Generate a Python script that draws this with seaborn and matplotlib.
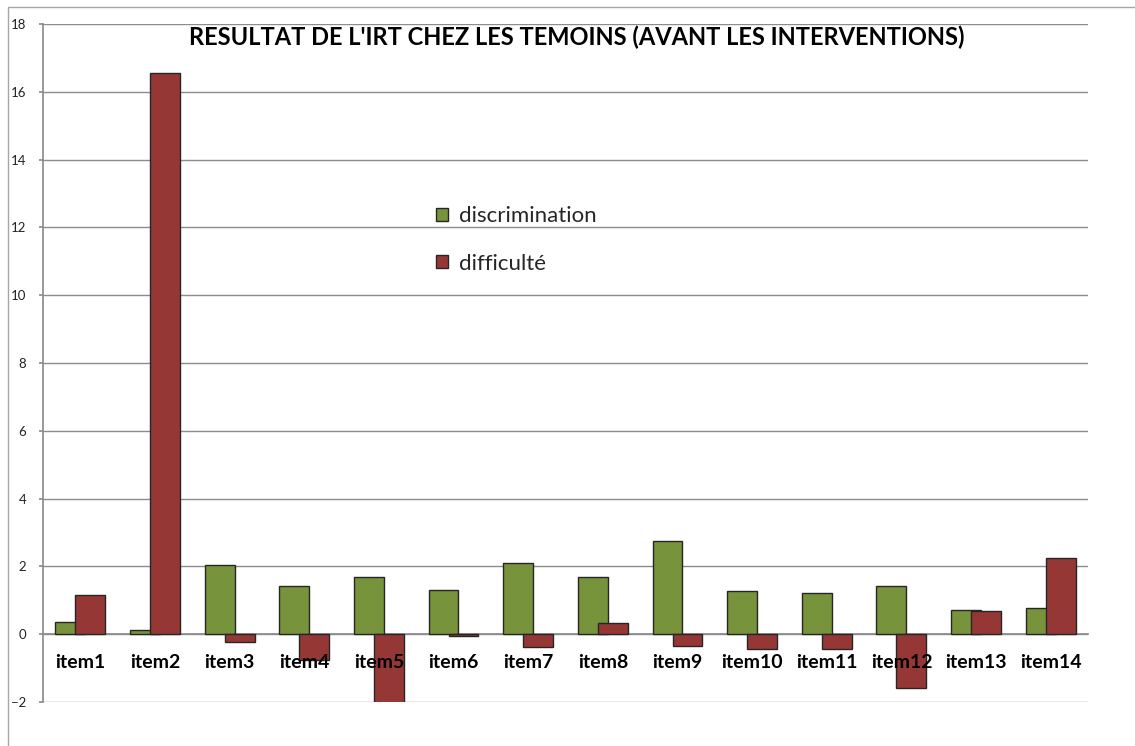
import numpy as np
import pandas as pd
import matplotlib
matplotlib.use("Agg")
import matplotlib.pyplot as plt
import seaborn as sns
from matplotlib.patches import Rectangle

items = ["item1", "item2", "item3", "item4", "item5", "item6", "item7",
         "item8", "item9", "item10", "item11", "item12", "item13", "item14"]
discrimination = [0.35, 0.11, 2.04, 1.41, 1.69, 1.30, 2.11,
                  1.70, 2.76, 1.27, 1.21, 1.41, 0.72, 0.76]
difficulte = [1.17, 16.55, -0.24, -0.77, -2.3, -0.04, -0.38,
              0.32, -0.35, -0.44, -0.44, -1.58, 0.68, 2.24]
series = ["discrimination", "difficulté"]
colors = ["#77933C", "#953735"]
title = "RESULTAT DE L'IRT CHEZ LES TEMOINS (AVANT LES INTERVENTIONS)"

df = pd.DataFrame({
    "item": items * 2,
    "valeur": discrimination + difficulte,
    "serie": [series[0]] * len(items) + [series[1]] * len(items),
})

sns.set_theme(style="white")
plt.rcParams["font.family"] = ["Lato", "DejaVu Sans"]

grey = "#8c8c8c"
W, H = 1135, 746
fig = plt.figure(figsize=(W / 100, H / 100), dpi=100)
ax = fig.add_axes([43 / W, 1 - 702 / H, (1088 - 43) / W, (702 - 24) / H])

sns.barplot(data=df, x="item", y="valeur", hue="serie", palette=colors,
            width=0.536, saturation=1, edgecolor="#262626", linewidth=1,
            ax=ax)

# excel style overlapping bars
for cont in ax.containers:
    for p in cont:
        c = p.get_x() + p.get_width() / 2
        p.set_width(0.40)
        p.set_x(c - 0.20)

ax.set_xlim(-0.5, len(items) - 0.5)
ax.set_ylim(-2, 18)
ax.set_yticks(np.arange(-2, 19, 2))
ax.yaxis.grid(True, color=grey, lw=1)
ax.yaxis.set_zorder(0.5)   # grid under the bars
ax.xaxis.set_zorder(3)     # item labels over the bars, like excel
ax.set_xlabel("")
ax.set_ylabel("")

for s in ["top", "right"]:
    ax.spines[s].set_visible(False)
ax.spines["left"].set_color(grey)
ax.spines["bottom"].set_color(grey)
ax.spines["bottom"].set_position(("data", 0))
ax.spines["bottom"].set_zorder(0.5)

ax.set_xticks(np.arange(-0.5, len(items), 1), minor=True)
ax.tick_params(axis="x", which="major", length=0, pad=14, labelsize=14)
ax.tick_params(axis="x", which="minor", length=4.5, color=grey, direction="out")
ax.tick_params(axis="y", length=3, color=grey, pad=9, labelsize=9.5,
               labelcolor="#222222", left=True)
for t in ax.get_xticklabels():
    t.set_fontweight("bold")
    t.set_color("black")

ax.legend(frameon=False, loc="upper left",
          bbox_to_anchor=(436 / W, 1 - 206 / H), bbox_transform=fig.transFigure,
          borderaxespad=0, borderpad=0, fontsize=16, handlelength=0.52,
          handleheight=0.52, handletextpad=0.5, labelspacing=1.25)

fig.text(577 / W, 1 - 37 / H, title, ha="center", va="center",
         fontsize=17, fontweight="bold", color="black")

fig.add_artist(Rectangle((8 / W, -0.2), 1.5, 1.2 - 7 / H,
                         transform=fig.transFigure, fill=False,
                         edgecolor="#a6a6a6", lw=1))

fig.savefig("out.png", dpi=100)
